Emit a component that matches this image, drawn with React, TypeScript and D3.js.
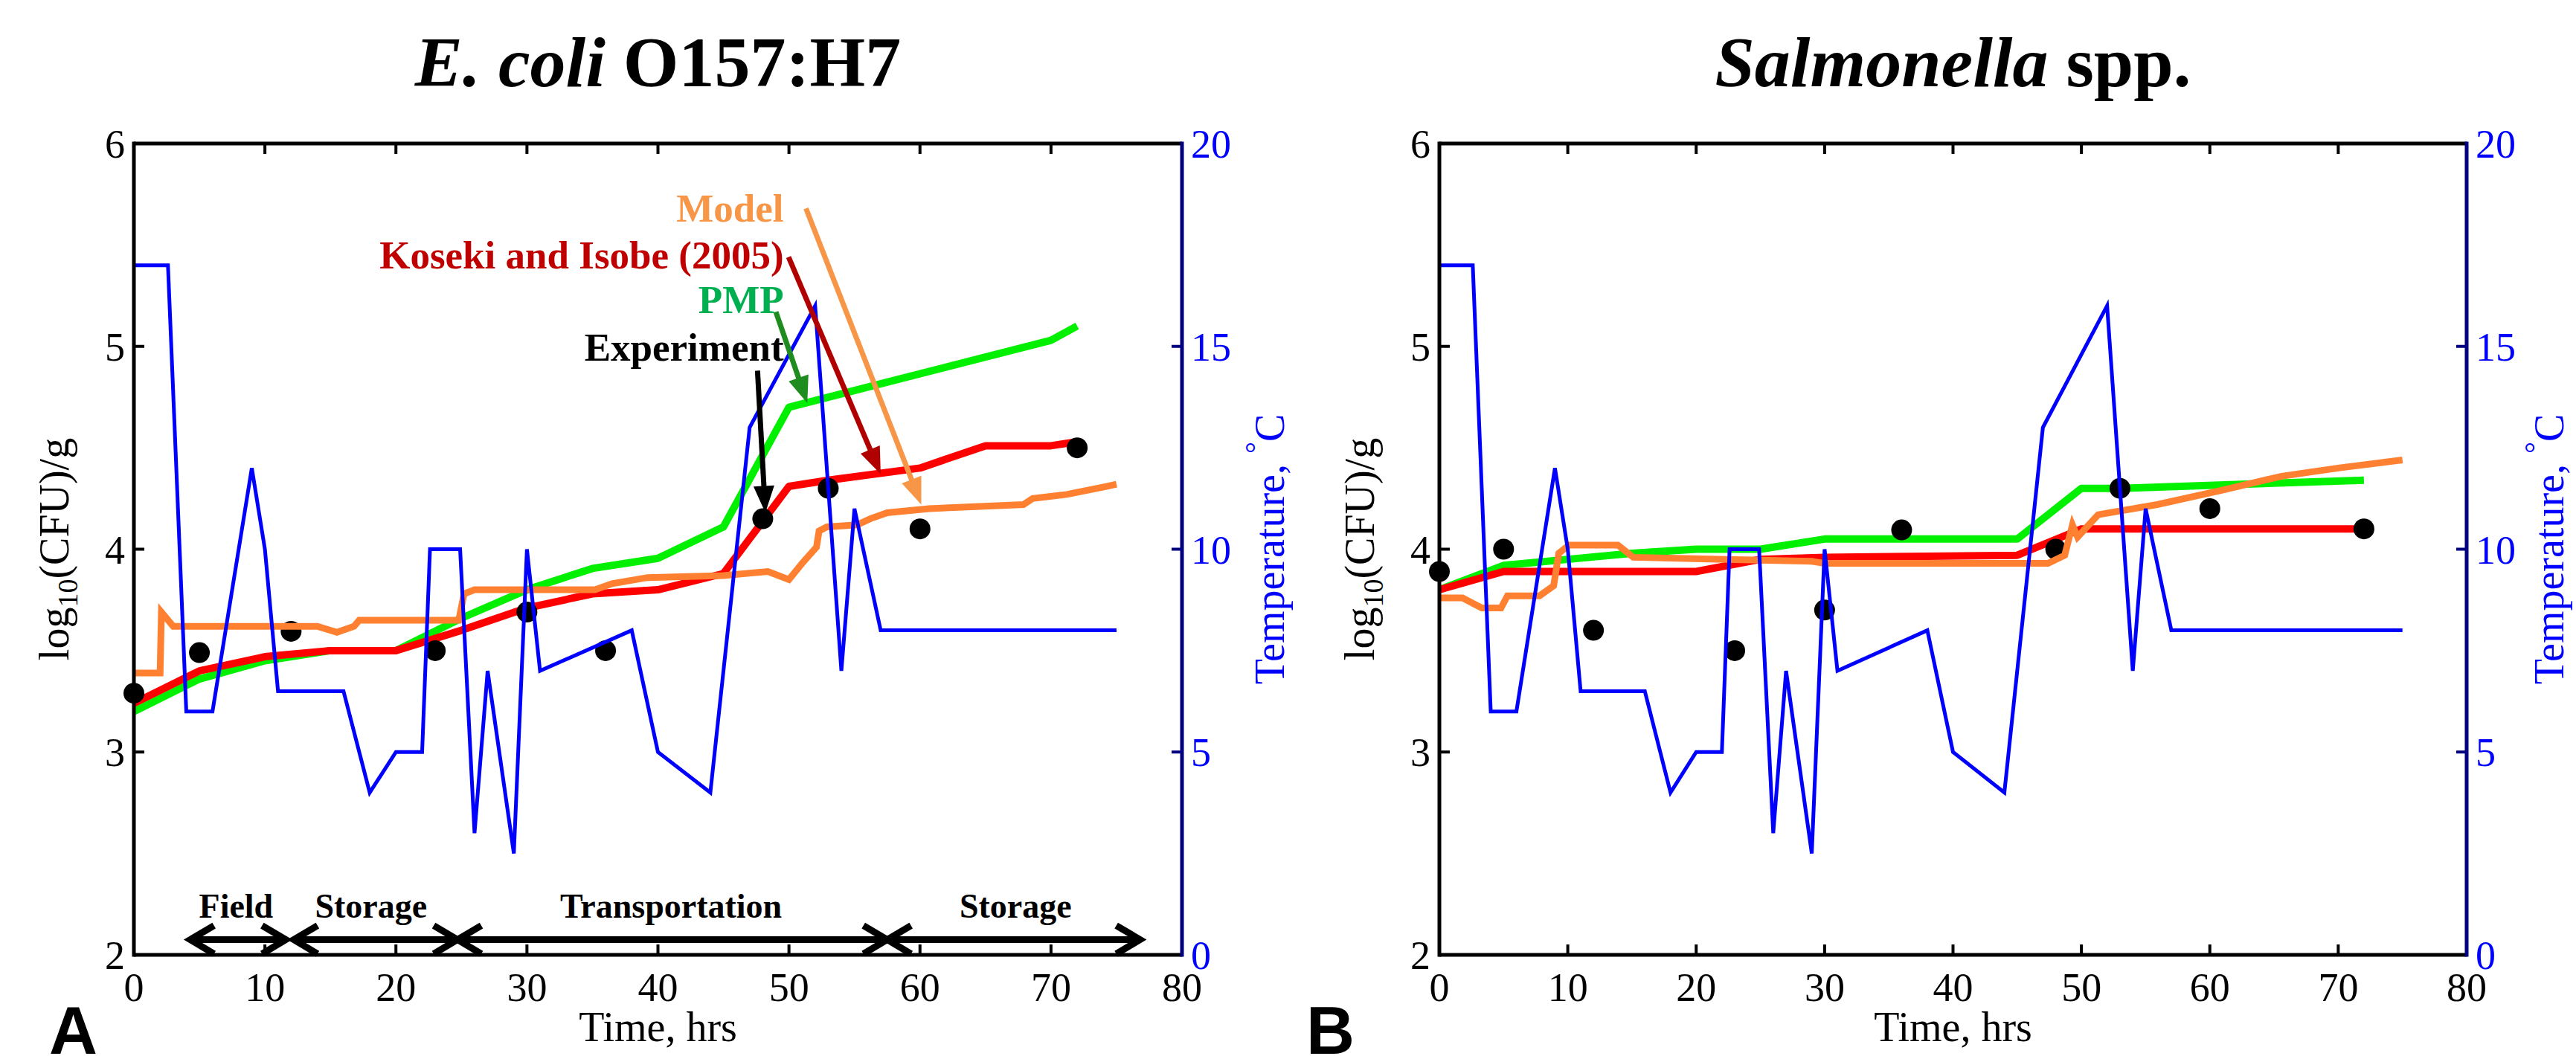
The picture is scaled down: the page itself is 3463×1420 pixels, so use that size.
import React from 'react';
import * as d3 from 'd3';

type Pt = [number, number];

// ---------- axes ----------
const timeTicks = [0, 10, 20, 30, 40, 50, 60, 70, 80];
const logTicks = [2, 3, 4, 5, 6];
const tempTicks = [0, 5, 10, 15, 20];

// ---------- temperature profile (°C vs hours), same for both panels ----------
const temperatureProfile: Pt[] = [
  [0, 17], [2.6, 17], [4, 6], [6, 6], [9, 12], [10, 10], [11, 6.5], [16, 6.5], [18, 4], [20, 5],
  [22, 5], [22.6, 10], [24.9, 10], [26, 3], [27, 7], [29, 2.5], [30, 10], [31, 7], [38, 8], [40, 5],
  [44, 4], [47, 13], [52, 16], [54, 7], [55, 11], [57, 8], [75, 8],
];

// ---------- E. coli O157:H7 ----------
const ecoliExperiment: Pt[] = [
  [0, 3.29], [5, 3.49], [12, 3.595], [23, 3.5], [30, 3.69], [36, 3.5], [48, 4.15], [53, 4.3], [60, 4.1], [72, 4.5],
];
const ecoliModel: Pt[] = [
  [0, 3.39], [2, 3.39], [2.1, 3.69], [3, 3.62], [14, 3.62], [15.5, 3.59], [16.8, 3.62], [17.2, 3.65],
  [24.8, 3.65], [25.2, 3.78], [26, 3.8], [35.2, 3.8], [36.5, 3.83], [39.2, 3.86], [45, 3.87], [48.4, 3.89],
  [50, 3.85], [51, 3.93], [52.1, 4.01], [52.3, 4.09], [52.9, 4.11], [55.2, 4.12], [56.2, 4.15], [57.5, 4.18],
  [60.7, 4.2], [67.9, 4.22], [68.6, 4.25], [71.2, 4.27], [74.3, 4.31], [75, 4.32],
];
const ecoliKoseki: Pt[] = [
  [0, 3.24], [5, 3.4], [10, 3.47], [15, 3.5], [20, 3.5], [25, 3.6], [30, 3.71], [35, 3.78], [40, 3.8],
  [45, 3.88], [50, 4.31], [53, 4.34], [60, 4.4], [65, 4.51], [70, 4.51], [72, 4.53],
];
const ecoliPMP: Pt[] = [
  [0, 3.2], [5, 3.36], [10, 3.45], [15, 3.5], [20, 3.5], [25, 3.66], [30, 3.8], [35, 3.905], [40, 3.955],
  [45, 4.11], [50, 4.7], [70, 5.03], [72, 5.1],
];

// ---------- Salmonella spp. ----------
const salExperiment: Pt[] = [
  [0, 3.89], [5, 4.0], [12, 3.6], [23, 3.5], [30, 3.7], [36, 4.095], [48, 4.0], [53, 4.3], [60, 4.2], [72, 4.1],
];
const salModel: Pt[] = [
  [0, 3.76], [1.8, 3.76], [3.3, 3.71], [4.8, 3.71], [5.3, 3.77], [7.8, 3.77], [8.9, 3.82], [9.3, 3.98],
  [10.1, 4.02], [13.9, 4.02], [15.1, 3.96], [29, 3.94], [30, 3.93], [47.4, 3.93], [48.7, 3.97], [49.3, 4.12],
  [49.7, 4.06], [51.3, 4.17], [55.9, 4.22], [60.9, 4.29], [65.6, 4.36], [70, 4.4], [75, 4.44],
];
const salKoseki: Pt[] = [
  [0, 3.8], [5, 3.89], [20, 3.89], [25, 3.95], [30, 3.96], [45, 3.97], [50, 4.1], [72, 4.1],
];
const salPMP: Pt[] = [
  [0, 3.8], [5, 3.92], [10, 3.95], [15, 3.98], [20, 4.0], [25, 4.0], [30, 4.05], [45, 4.05], [50, 4.3],
  [53, 4.3], [72, 4.34],
];

// ---------- phase annotations (panel A) ----------
const phaseLabels = ['Field', 'Storage', 'Transportation', 'Storage'];
const phaseStarts = [4.3, 12.2, 24.7, 57.5];
const phaseEnds = [11.6, 24.7, 57.5, 76.8];
const phaseLabelCenters = [7.8, 18.1, 41, 67.3];
const phaseArrowLevel = 2.075;
const phaseLabelLevel = 2.185;

// ---------- legend callouts (panel A) ----------
const calloutLabels = ['Model', 'Koseki and Isobe (2005)', 'PMP', 'Experiment'];
const calloutTextX = 49.6;
const calloutTextLevels = [5.615, 5.385, 5.165, 4.93];
const calloutFrom: Pt[] = [[51.3, 5.68], [49.97, 5.44], [49.0, 5.17], [47.6, 4.88]];
const calloutTo: Pt[] = [[60.1, 4.22], [57.0, 4.37], [51.4, 4.72], [48.2, 4.18]];
const calloutTextColors = ['#F79646', '#C00000', '#00B050', '#000000'];
const calloutArrowColors = ['#F79646', '#B00000', '#1E8C1E', '#000000'];

const SERIF = '"Liberation Serif", "Times New Roman", serif';

type PanelProps = {
  x0: number; x1: number; y0: number; y1: number;
  title: React.ReactNode;
  experiment: Pt[]; model: Pt[]; koseki: Pt[]; pmp: Pt[];
  annotate: boolean; tempLabelOffset: number;
};

function Panel({ x0, x1, y0, y1, title, experiment, model, koseki, pmp, annotate, tempLabelOffset }: PanelProps) {
  const x = d3.scaleLinear().domain([0, 80]).range([x0, x1]);
  const y = d3.scaleLinear().domain([2, 6]).range([y1, y0]);
  const yT = d3.scaleLinear().domain([0, 20]).range([y1, y0]);
  const line = d3.line<Pt>().x(d => x(d[0])).y(d => y(d[1]));
  const lineT = d3.line<Pt>().x(d => x(d[0])).y(d => yT(d[1]));
  const tick = 14;
  const cx = (x0 + x1) / 2;
  const cy = (y0 + y1) / 2;

  const arrow = (from: Pt, to: Pt, color: string, key: string) => {
    const px0 = x(from[0]), py0 = y(from[1]), px1 = x(to[0]), py1 = y(to[1]);
    const dx = px1 - px0, dy = py1 - py0;
    const len = Math.hypot(dx, dy);
    const ux = dx / len, uy = dy / len;
    const L = 36, W = 14;
    const bx = px1 - ux * L, by = py1 - uy * L;
    const pts = [
      [px1, py1], [bx - uy * W, by + ux * W], [bx + uy * W, by - ux * W],
    ].map(p => p.join(',')).join(' ');
    return (
      <g key={key}>
        <line x1={px0} y1={py0} x2={bx + ux * 2} y2={by + uy * 2} stroke={color} strokeWidth={7} />
        <polygon points={pts} fill={color} />
      </g>
    );
  };

  const chevron = (tx: number, ty: number, dir: number, key: string) => {
    const L = 32, H = 19;
    return (
      <polyline key={key}
        points={`${tx + dir * L},${ty - H} ${tx},${ty} ${tx + dir * L},${ty + H}`}
        fill="none" stroke="#000" strokeWidth={9} strokeLinejoin="miter" />
    );
  };

  return (
    <g>
      <text x={cx} y={116} textAnchor="middle" fontFamily={SERIF} fontWeight="bold" fontSize={96}>{title}</text>

      {/* data curves */}
      <path d={line(pmp) || ''} fill="none" stroke="#00F000" strokeWidth={10} strokeLinejoin="round" />
      <path d={line(koseki) || ''} fill="none" stroke="#FF0000" strokeWidth={10} strokeLinejoin="round" />
      {experiment.map((d, i) => (
        <circle key={'e' + i} cx={x(d[0])} cy={y(d[1])} r={14} fill="#000" />
      ))}
      <path d={line(model) || ''} fill="none" stroke="#FF8030" strokeWidth={9} strokeLinejoin="miter" />
      <path d={lineT(temperatureProfile) || ''} fill="none" stroke="#0000FF" strokeWidth={5} strokeLinejoin="miter" />

      {/* frame */}
      <line x1={x0} y1={y0} x2={x1} y2={y0} stroke="#000" strokeWidth={5} />
      <line x1={x0} y1={y1} x2={x1} y2={y1} stroke="#000" strokeWidth={5} />
      <line x1={x0} y1={y0 - 2.5} x2={x0} y2={y1 + 2.5} stroke="#000" strokeWidth={5} />
      <line x1={x1} y1={y0 - 2.5} x2={x1} y2={y1 + 2.5} stroke="#000080" strokeWidth={5} />
      {timeTicks.filter(t => t > 0 && t < 80).map(t => (
        <g key={'xt' + t}>
          <line x1={x(t)} x2={x(t)} y1={y1} y2={y1 - tick} stroke="#000" strokeWidth={4} />
          <line x1={x(t)} x2={x(t)} y1={y0} y2={y0 + tick} stroke="#000" strokeWidth={4} />
        </g>
      ))}
      {logTicks.filter(v => v > 2 && v < 6).map(v => (
        <line key={'yt' + v} x1={x0} x2={x0 + tick} y1={y(v)} y2={y(v)} stroke="#000" strokeWidth={4} />
      ))}
      {tempTicks.filter(v => v > 0 && v < 20).map(v => (
        <line key={'tt' + v} x1={x1} x2={x1 - tick} y1={yT(v)} y2={yT(v)} stroke="#000080" strokeWidth={4} />
      ))}

      {/* tick labels */}
      {timeTicks.map(t => (
        <text key={'xl' + t} x={x(t)} y={y1 + 62} textAnchor="middle" fontFamily={SERIF} fontSize={54}>{t}</text>
      ))}
      {logTicks.map(v => (
        <text key={'yl' + v} x={x0 - 12} y={y(v) + 19} textAnchor="end" fontFamily={SERIF} fontSize={54}>{v}</text>
      ))}
      {tempTicks.map(v => (
        <text key={'tl' + v} x={x1 + 12} y={yT(v) + 19} textAnchor="start" fontFamily={SERIF} fontSize={54} fill="#0000FF">{v}</text>
      ))}

      {/* axis titles */}
      <text x={cx} y={1400} textAnchor="middle" fontFamily={SERIF} fontSize={56}>Time, hrs</text>
      <text transform={`translate(${x0 - 88},${cy}) rotate(-90)`} textAnchor="middle" fontFamily={SERIF} fontSize={56}>
        log<tspan fontSize={38} dy={12}>10</tspan><tspan dy={-12}>(CFU)/g</tspan>
      </text>
      <text transform={`translate(${x1 + tempLabelOffset},${cy}) rotate(-90)`} textAnchor="middle" fontFamily={SERIF} fontSize={56} fill="#0000FF">
        {'Temperature, '}<tspan fontSize={40} dy={-24}>°</tspan><tspan dy={24}>C</tspan>
      </text>

      {annotate && (
        <g>
          {phaseLabels.map((lab, i) => {
            const py = y(phaseArrowLevel);
            const a = x(phaseStarts[i]);
            const b = x(phaseEnds[i]);
            return (
              <g key={'ph' + i}>
                <line x1={a} x2={b} y1={py} y2={py} stroke="#000" strokeWidth={9} />
                {chevron(a, py, 1, 'l' + i)}
                {chevron(b, py, -1, 'r' + i)}
                <text x={x(phaseLabelCenters[i])} y={y(phaseLabelLevel)} textAnchor="middle"
                  fontFamily={SERIF} fontWeight="bold" fontSize={46}>{lab}</text>
              </g>
            );
          })}
          {calloutLabels.map((lab, i) => (
            <text key={'cl' + i} x={x(calloutTextX)} y={y(calloutTextLevels[i])} textAnchor="end"
              fontFamily={SERIF} fontWeight="bold" fontSize={53} fill={calloutTextColors[i]}>{lab}</text>
          ))}
          {calloutLabels.map((_, i) => arrow(calloutFrom[i], calloutTo[i], calloutArrowColors[i], 'ca' + i))}
        </g>
      )}
    </g>
  );
}

export default function App() {
  return (
    <svg width={3463} height={1420} viewBox="0 0 3463 1420"
      style={{ position: 'absolute', left: 0, top: 0, background: '#fff' }}>
      <rect x={0} y={0} width={3463} height={1420} fill="#fff" />
      <Panel x0={180} x1={1589} y0={193} y1={1284}
        title={<><tspan fontStyle="italic">E. coli</tspan>{' O157:H7'}</>}
        experiment={ecoliExperiment} model={ecoliModel} koseki={ecoliKoseki} pmp={ecoliPMP}
        annotate={true} tempLabelOffset={137} />
      <Panel x0={1935} x1={3316} y0={193} y1={1284}
        title={<><tspan fontStyle="italic">Salmonella</tspan>{' spp.'}</>}
        experiment={salExperiment} model={salModel} koseki={salKoseki} pmp={salPMP}
        annotate={false} tempLabelOffset={130} />
      <text x={66} y={1417} fontFamily='"Liberation Sans", Arial, sans-serif' fontWeight="bold" fontSize={90}>A</text>
      <text x={1756} y={1417} fontFamily='"Liberation Sans", Arial, sans-serif' fontWeight="bold" fontSize={90}>B</text>
    </svg>
  );
}
